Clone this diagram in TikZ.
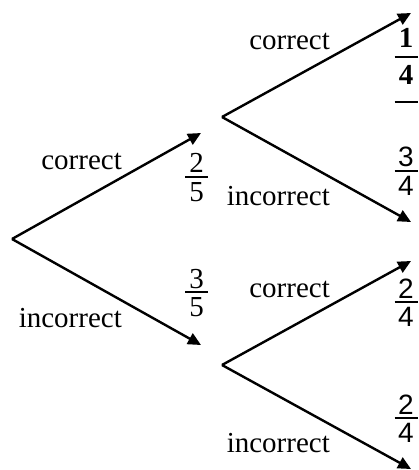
\documentclass[tikz,border=0pt]{standalone}
\usepackage{fontspec}
\setmainfont{Liberation Serif}
\newfontfamily\sansface{Liberation Sans}
\usetikzlibrary{arrows.meta}
\tikzset{
  branch/.style={line width=2.4pt,-{Triangle[length=13pt,width=12pt]}},
  word/.style={font=\fontsize{29}{34}\selectfont,inner sep=0pt},
  dig/.style={font=\fontsize{29}{34}\selectfont,inner sep=0pt},
  sdig/.style={font=\fontsize{28}{34}\selectfont\sansface,inner sep=0pt},
  bdig/.style={font=\fontsize{29}{34}\selectfont\bfseries,inner sep=0pt},
  fbar/.style={line width=2.2pt}
}
% name, x, ybar, numerator, denominator, style
\newcommand\fracat[6]{%
  \node[#6,anchor=base] (#1n) at (#2,#3-4) {#4};
  \node[#6,anchor=north] (#1d) at (#2,#3+5.5) {#5};
  \draw[fbar] (#2-11.5,#3) -- (#2+11.5,#3);
}
\begin{document}
\begin{tikzpicture}[x={(1pt,0)},y={(0,-1pt)}]
\useasboundingbox (0,0) rectangle (419,470);
% tree points
\coordinate (R) at (12,239);
\coordinate (A1) at (201,133);
\coordinate (A2) at (201,345);
\coordinate (B1) at (222,117);
\coordinate (B2) at (222,365);
\coordinate (C1) at (411,13);
\coordinate (C2) at (411,222);
\coordinate (C3) at (411,261);
\coordinate (C4) at (411,469);
\draw[branch] (R) -- (A1);
\draw[branch] (R) -- (A2);
\draw[branch] (B1) -- (C1);
\draw[branch] (B1) -- (C2);
\draw[branch] (B2) -- (C3);
\draw[branch] (B2) -- (C4);
% words
\node[word,anchor=base east] (w1) at (122,170) {correct};
\node[word,anchor=base east] (w2) at (122,327) {incorrect};
\node[word,anchor=base east] (w3) at (330,50) {correct};
\node[word,anchor=base east] (w4) at (330,205) {incorrect};
\node[word,anchor=base east] (w5) at (330,297) {correct};
\node[word,anchor=base east] (w6) at (330,452) {incorrect};
% fractions
\fracat{f1}{196.5}{177}{2}{5}{dig}
\fracat{f2}{196.5}{292}{3}{5}{dig}
\fracat{f4}{406}{171}{3}{4}{sdig}
\fracat{f5}{406}{302}{2}{4}{sdig}
\fracat{f6}{406}{418}{2}{4}{sdig}
% bold 1/4 with extra bar
\node[bdig,anchor=base] (f3n) at (406,48) {1};
\node[bdig,anchor=north] (f3d) at (406,65) {4};
\draw[fbar] (394.5,57) -- (417.5,57);
\draw[fbar] (394.5,102) -- (417.5,102);
\end{tikzpicture}
\end{document}
